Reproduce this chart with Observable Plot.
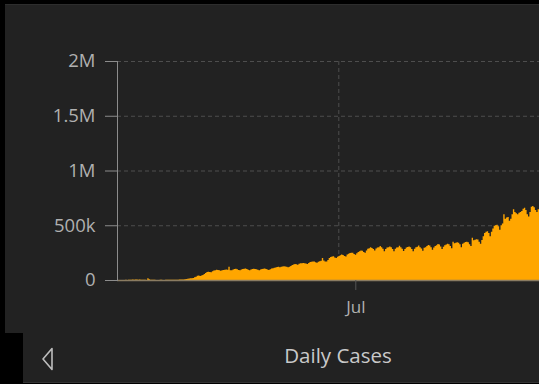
<!DOCTYPE html>
<html><head><meta charset="utf-8">
<script src="https://cdn.jsdelivr.net/npm/d3@7"></script>
<script src="https://cdn.jsdelivr.net/npm/@observablehq/plot@0.6"></script>
<style>
html,body{margin:0;padding:0;background:#000;}
#root{position:relative;width:550px;height:384px;overflow:hidden;background:#000;font-family:"Open Sans",sans-serif;}
#white{position:absolute;left:539px;top:0;width:11px;height:384px;background:#fff;}
#panel{position:absolute;left:5px;top:4px;width:534px;height:329px;background:#222;border-top:1px solid #2d2d2d;box-sizing:border-box;}
#footer{position:absolute;left:23px;top:333px;width:516px;height:49px;background:#222;border-bottom:1px solid #333;}
#chart{position:absolute;left:0;top:0;}
#title{position:absolute;left:238px;width:200px;top:341px;text-align:center;color:#c9c9c9;font-size:20.5px;line-height:28px;}
#back{position:absolute;left:0;top:0;}
</style>
</head><body>
<div id="root">
  <div id="white"></div>
  <div id="panel"></div>
  <div id="footer"></div>
  <div id="chart"></div>
  <svg id="back" width="550" height="384"><polygon points="52,348.5 43,359 52,369.5" fill="none" stroke="#bdbdbd" stroke-width="1.6" stroke-linejoin="round"/></svg>
  <div id="title">Daily Cases</div>
</div>
<script>
// Daily new cases (thousands), one value per day from 2020-01-22
const startDate = "2020-01-22";
const endDate = "2020-11-24";
const casesK = [
  0.6, 0.1, 0.3, 0.5, 0.7, 0.8, 2.7,
  0.6, 2.1, 1.7, 2.1, 4.7, 3.1, 4.0,
  3.7, 3.2, 3.6, 2.7, 3.0, 2.6, 2.0,
  0.4, 15.1, 6.5, 2.1, 2.2, 2.0, 1.9,
  0.5, 0.6, 1.0, 1.4, 1.2, 0.6, 0.9,
  1.2, 1.4, 1.4, 1.9, 1.7, 1.8, 2.4,
  2.3, 2.5, 2.8, 3.9, 3.9, 3.8, 4.6,
  7, 10, 11, 13, 15, 15.5, 18,
  25, 30, 38, 40, 36, 42, 46,
  55, 65, 72, 76, 74, 70, 80,
  86, 90, 94, 92, 88, 84, 88,
  92, 94, 96, 94, 122, 88, 90,
  96, 100, 102, 98, 92, 90, 96,
  100, 102, 104, 100, 94, 90, 96,
  100, 102, 100, 98, 94, 90, 96,
  100, 102, 104, 100, 96, 92, 98,
  104, 108, 112, 114, 118, 120, 116,
  120, 124, 126, 124, 120, 116, 122,
  128, 138, 142, 146, 144, 140, 148,
  152, 154, 156, 154, 150, 146, 156,
  164, 166, 170, 168, 162, 158, 166,
  172, 176, 200, 178, 170, 168, 182,
  200, 210, 214, 218, 206, 200, 212,
  220, 226, 232, 228, 220, 214, 232,
  240, 246, 250, 248, 238, 230, 244,
  256, 262, 270, 266, 256, 250, 270,
  286, 290, 300, 292, 282, 270, 288,
  296, 300, 310, 300, 286, 262, 284,
  296, 300, 306, 300, 284, 262, 286,
  296, 300, 312, 298, 286, 264, 284,
  296, 302, 306, 298, 282, 262, 286,
  300, 304, 314, 300, 288, 266, 294,
  300, 310, 320, 316, 300, 276, 296,
  310, 318, 328, 324, 306, 282, 304,
  318, 324, 332, 326, 310, 290, 350,
  336, 340, 344, 340, 326, 300, 330,
  340, 346, 350, 344, 326, 310, 385,
  362, 368, 372, 370, 350, 330, 366,
  400, 430, 440, 445, 430, 400, 440,
  470, 495, 500, 505, 490, 460, 500,
  515, 600, 560, 570, 575, 540, 560,
  600, 645, 620, 610, 600, 615, 620,
  630, 650, 660, 640, 600, 580, 620,
  670, 675, 665, 640, 620, 645, 610
];
const yTicks = [0, 500000, 1000000, 1500000, 2000000];
const yTickLabels = ["0", "500k", "1M", "1.5M", "2M"];
const xTicks = ["2020-07-01"];
const xTickLabels = ["Jul"];

const start = new Date(startDate);
const data = casesK.map((v, i) => ({date: d3.utcDay.offset(start, i), cases: v * 1000}));
const xTickDates = xTicks.map(d => new Date(d));

const chart = Plot.plot({
  width: 539,
  height: 330,
  marginLeft: 117,
  marginRight: 0,
  marginTop: 61,
  marginBottom: 50,
  style: {background: "transparent", color: "#b4b4b4", fontSize: "18.5px", fontFamily: "Open Sans, sans-serif"},
  x: {type: "utc", domain: [start, new Date(endDate)], label: null},
  y: {domain: [0, 2000000], label: null},
  marks: [
    Plot.gridY(yTicks.slice(1), {stroke: "#4e4e4e", strokeOpacity: 1, strokeDasharray: "4,3"}),
    Plot.gridX(xTickDates, {stroke: "#4e4e4e", strokeOpacity: 1, strokeDasharray: "4,3"}),
    Plot.areaY(data, {x: "date", y: "cases", curve: "step-after", fill: "#ffa600"}),
    Plot.ruleY([0], {stroke: "#8a7c62", strokeWidth: 1.5}),
    Plot.frame({anchor: "left", stroke: "#8c8c8c"}),
    Plot.axisY(yTicks, {label: null, tickFormat: (d, i) => yTickLabels[i], tickSize: 12, tickPadding: 10, stroke: "#8c8c8c", fill: "#b0b0b0"}),
    Plot.axisX(xTickDates, {label: null, tickFormat: (d, i) => xTickLabels[i], tickSize: 10, tickPadding: 10, dx: 17, stroke: "#555", fill: "#b0b0b0", fontSize: 17})
  ]
});
document.getElementById("chart").appendChild(chart);
</script>
</body></html>
